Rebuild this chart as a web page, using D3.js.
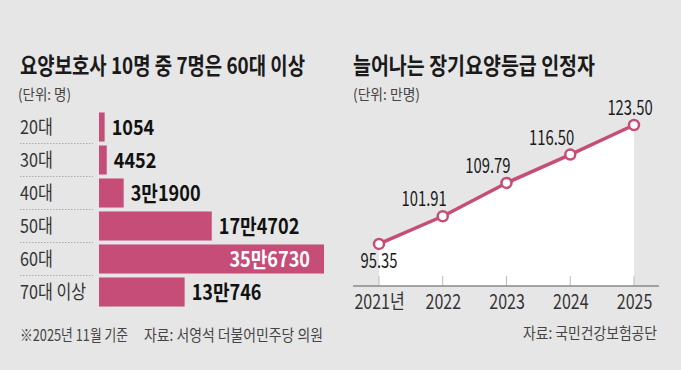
<!DOCTYPE html>
<html><head><meta charset="utf-8">
<script src="https://cdn.jsdelivr.net/npm/d3@7"></script>
<style>
html,body{margin:0;padding:0;background:#e6e6e6;}
svg{display:block;font-family:"Noto Sans CJK KR","Noto Sans",sans-serif;}
</style></head>
<body>
<svg id="c" width="681" height="370"></svg>
<script>
// ---- data ----
const ageCats = ["20대","30대","40대","50대","60대","70대 이상"];
const ageValues = [1054, 4452, 31900, 174702, 356730, 130746];
const ageLabels = ["1054","4452","3만1900","17만4702","35만6730","13만746"];
const years = ["2021","2022","2023","2024","2025"];
const yearTickLabels = ["2021년","2022","2023","2024","2025"];
const recipients = [95.35, 101.91, 109.79, 116.50, 123.50];
const recipientLabels = ["95.35","101.91","109.79","116.50","123.50"];

const PINK = "#c54d78";
const svg = d3.select("#c");
svg.append("rect").attr("width",681).attr("height",370).attr("fill","#e6e6e6");

function condense(sel, k){
  sel.each(function(){
    const w = this.getComputedTextLength();
    d3.select(this).attr("textLength", w*k).attr("lengthAdjust","spacingAndGlyphs");
  });
  return sel;
}
function fit(sel, w){
  sel.attr("textLength", w).attr("lengthAdjust","spacingAndGlyphs");
  return sel;
}

// ---- left chart ----
fit(svg.append("text").attr("x",20).attr("y",74).attr("font-size",23).attr("font-weight",700)
  .attr("fill","#1a1a1a").text("요양보호사 10명 중 7명은 60대 이상"), 285);
fit(svg.append("text").attr("x",18).attr("y",100).attr("font-size",15).attr("fill","#444")
  .text("(단위: 명)"), 53);

const yb = d3.scaleBand().domain(ageCats).range([110.5, 308.5]).paddingInner(0.12).paddingOuter(0.06);
const barX0 = 99;
const xb = d3.scaleLinear().domain([0, d3.max(ageValues)]).range([barX0+5, 324]);

const rows = svg.append("g");
ageCats.forEach((c,i)=>{
  const y = yb(c), h = yb.bandwidth();
  rows.append("rect").attr("x",barX0).attr("y",y).attr("width",xb(ageValues[i])-barX0).attr("height",h).attr("fill",PINK);
  condense(rows.append("text").attr("x",20).attr("y",y+h/2+7).attr("font-size",19).attr("fill","#333").text(c),0.85);
  const inside = i===4;
  const t = rows.append("text")
    .attr("x", inside ? xb(ageValues[i])-14 : xb(ageValues[i])+7)
    .attr("y", y+h/2+7.5).attr("font-size",21).attr("font-weight",700)
    .attr("text-anchor", inside ? "end" : "start")
    .attr("fill", inside ? "#fff" : "#111").text(ageLabels[i]);
  condense(t,0.86);
  if(i < ageCats.length-1){
    const sy = y + h + yb.step()*yb.paddingInner()/2;
    rows.append("line").attr("x1",20).attr("x2",93).attr("y1",sy).attr("y2",sy)
      .attr("stroke","#aaa").attr("stroke-width",1).attr("stroke-dasharray","1.5,1.5");
  }
});

fit(svg.append("text").attr("x",20).attr("y",341).attr("font-size",16).attr("fill","#444")
  .text("※2025년 11월 기준"),108);
fit(svg.append("text").attr("x",144).attr("y",341).attr("font-size",16).attr("fill","#444")
  .text("자료: 서영석 더불어민주당 의원"),179);

// ---- right chart ----
fit(svg.append("text").attr("x",353).attr("y",74).attr("font-size",23).attr("font-weight",700)
  .attr("fill","#1a1a1a").text("늘어나는 장기요양등급 인정자"), 242);
fit(svg.append("text").attr("x",353).attr("y",100).attr("font-size",15).attr("fill","#444")
  .text("(단위: 만명)"), 67);

const axisY = 286;
const xl = d3.scalePoint().domain(years).range([379, 634]);
const yl = d3.scaleLinear().domain([85.4, 123.5]).range([axisY, 125]);
const pts = years.map((yr,i)=>({yr, v:recipients[i]}));

const area = d3.area().x(d=>xl(d.yr)).y0(axisY).y1(d=>yl(d.v));
svg.append("path").datum(pts).attr("d",area).attr("fill","#fff");

// ticks
years.forEach((yr)=>{
  svg.append("line").attr("x1",xl(yr)).attr("x2",xl(yr)).attr("y1",axisY-10).attr("y2",axisY)
    .attr("stroke","#bbb").attr("stroke-width",1);
});
const ax = svg.append("g").attr("transform",`translate(0,${axisY})`)
  .call(d3.axisBottom(xl).tickSize(0).tickPadding(0).tickFormat((d,i)=>yearTickLabels[i]));
ax.select(".domain").remove();
ax.selectAll("text").attr("font-size",20).attr("fill","#333").attr("dy",0).attr("y",23)
  .attr("font-family",'"Noto Sans CJK KR","Noto Sans",sans-serif');
condense(ax.selectAll("text"),0.8);
svg.append("line").attr("x1",353).attr("x2",659).attr("y1",axisY).attr("y2",axisY)
  .attr("stroke","#8a8a8a").attr("stroke-width",1.5);

const line = d3.line().x(d=>xl(d.yr)).y(d=>yl(d.v));
svg.append("path").datum(pts).attr("d",line).attr("fill","none").attr("stroke",PINK)
  .attr("stroke-width",3.5).attr("stroke-linejoin","round");
svg.selectAll("circle.pt").data(pts).enter().append("circle").attr("class","pt")
  .attr("cx",d=>xl(d.yr)).attr("cy",d=>yl(d.v)).attr("r",5)
  .attr("fill","#fff").attr("stroke",PINK).attr("stroke-width",2.5);

pts.forEach((d,i)=>{
  const px = xl(d.yr), py = yl(d.v);
  let x, y, anchor;
  if(i===0){ x=px; y=py+24; anchor="middle"; }
  else if(i===pts.length-1){ x=px-4; y=py-10; anchor="middle"; }
  else { x=px+4; y=py-10; anchor="end"; }
  condense(svg.append("text").attr("x",x).attr("y",y).attr("text-anchor",anchor)
    .attr("font-size",20).attr("fill","#1a1a1a").text(recipientLabels[i]),0.74);
});

fit(svg.append("text").attr("x",657).attr("y",339).attr("font-size",16).attr("fill","#444")
  .attr("text-anchor","end").text("자료: 국민건강보험공단"),134);
</script>
</body></html>
